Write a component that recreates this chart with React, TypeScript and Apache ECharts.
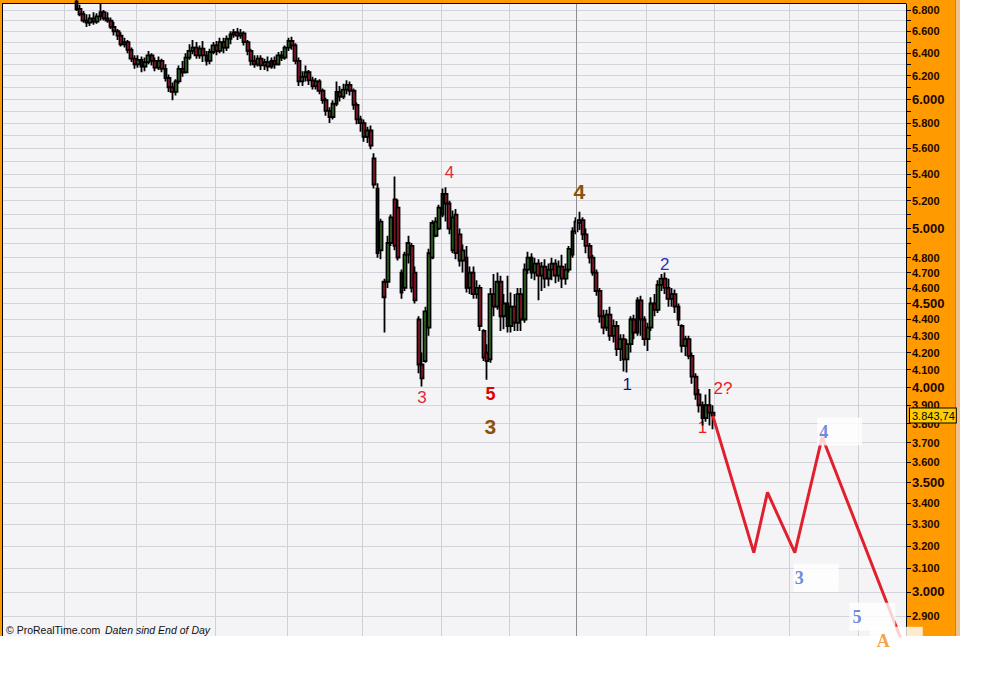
import React, { useEffect, useRef } from 'react';
import * as echarts from 'echarts';

// ---------- categories (trading days) ----------
const HOLIDAYS = ['2008-12-24', '2008-12-25', '2008-12-26', '2008-12-31', '2009-01-01', '2009-04-10', '2009-04-13', '2009-05-01'];
const FIRST_DAY = '2008-05-07';
const LAST_DAY = '2009-05-21';

function buildTradingDays(): string[] {
  const out: string[] = [];
  const start = Date.parse(FIRST_DAY + 'T00:00:00Z');
  const end = Date.parse(LAST_DAY + 'T00:00:00Z');
  for (let t = start; t <= end; t += 86400000) {
    const d = new Date(t);
    const wd = d.getUTCDay();
    if (wd === 0 || wd === 6) continue;
    const s = d.toISOString().slice(0, 10);
    if (HOLIDAYS.includes(s)) continue;
    out.push(s);
  }
  return out;
}
const categories = buildTradingDays();

// ---------- daily candles [open, close, low, high], consecutive trading days ----------
const FIRST_CANDLE = '2008-06-05';
const jun08 = [
  [6880, 6810, 6790, 6920], [6810, 6760, 6740, 6850], [6760, 6700, 6680, 6790], [6700, 6680, 6640, 6760],
  [6680, 6720, 6650, 6760], [6720, 6690, 6660, 6780], [6690, 6740, 6670, 6770], [6740, 6780, 6700, 6860],
  [6780, 6720, 6700, 6800], [6720, 6700, 6680, 6780], [6700, 6640, 6620, 6730], [6640, 6600, 6560, 6690],
  [6600, 6560, 6520, 6620], [6560, 6480, 6460, 6590], [6480, 6500, 6450, 6540], [6500, 6430, 6400, 6520],
  [6430, 6350, 6320, 6450], [6350, 6300, 6260, 6380],
];
const jul08 = [
  [6300, 6340, 6270, 6380], [6340, 6280, 6230, 6370], [6280, 6320, 6240, 6360], [6320, 6380, 6300, 6420],
  [6380, 6330, 6290, 6400], [6330, 6270, 6240, 6360], [6270, 6330, 6250, 6370], [6330, 6260, 6230, 6350],
  [6260, 6180, 6150, 6300], [6180, 6100, 6060, 6210], [6100, 6060, 5990, 6140], [6060, 6150, 6030, 6170],
  [6150, 6260, 6130, 6290], [6260, 6230, 6190, 6330], [6230, 6360, 6220, 6400], [6360, 6420, 6340, 6480],
  [6420, 6450, 6390, 6520], [6450, 6380, 6350, 6500], [6380, 6440, 6350, 6470], [6440, 6380, 6320, 6510],
  [6380, 6330, 6290, 6420], [6330, 6410, 6300, 6440], [6410, 6470, 6390, 6500],
];
const aug08 = [
  [6470, 6420, 6380, 6510], [6420, 6500, 6400, 6540], [6500, 6450, 6400, 6540], [6450, 6530, 6420, 6560],
  [6530, 6570, 6480, 6600], [6570, 6590, 6540, 6620], [6590, 6560, 6520, 6630], [6560, 6580, 6530, 6620],
  [6580, 6500, 6470, 6600], [6500, 6420, 6380, 6520], [6420, 6330, 6290, 6440], [6330, 6300, 6270, 6380],
  [6300, 6350, 6280, 6380], [6350, 6290, 6250, 6380], [6290, 6320, 6250, 6350], [6320, 6280, 6240, 6370],
  [6280, 6330, 6260, 6360], [6330, 6300, 6260, 6370], [6300, 6380, 6290, 6410], [6380, 6360, 6330, 6420],
  [6360, 6450, 6340, 6470],
];
const sep08 = [
  [6450, 6510, 6420, 6540], [6510, 6470, 6430, 6550], [6470, 6330, 6300, 6490], [6330, 6150, 6110, 6360],
  [6150, 6190, 6110, 6240], [6190, 6230, 6150, 6290], [6230, 6160, 6120, 6250], [6160, 6110, 6080, 6190],
  [6110, 6150, 6080, 6180], [6150, 6070, 6040, 6170], [6070, 5990, 5960, 6090], [5990, 5900, 5860, 6010],
  [5900, 5850, 5800, 5930], [5850, 5960, 5830, 5990], [5960, 6060, 5940, 6150], [6060, 6020, 5980, 6110],
  [6020, 6080, 6000, 6130], [6080, 6120, 6040, 6160], [6120, 6070, 6030, 6150], [6070, 5950, 5910, 6090],
  [5950, 5830, 5790, 5970], [5830, 5800, 5730, 5860],
];
const oct08 = [
  [5800, 5690, 5650, 5830], [5690, 5740, 5640, 5770], [5740, 5620, 5590, 5780], [5520, 5320, 5290, 5560],
  [5290, 4830, 4800, 5330], [4850, 5050, 4790, 5070], [4640, 4540, 4320, 4660], [4640, 4900, 4600, 4950],
  [4900, 5080, 4880, 5100], [5210, 4880, 4850, 5380], [5150, 4800, 4780, 5210], [4700, 4570, 4530, 4720],
  [4600, 4820, 4580, 4840], [4820, 4900, 4760, 4950], [4880, 4600, 4570, 4900], [4700, 4520, 4500, 4740],
  [4400, 4130, 4080, 4420], [4130, 4050, 4004, 4200], [4150, 4450, 4140, 4480], [4350, 4830, 4300, 4860],
  [4800, 5040, 4790, 5060], [4950, 5050, 4940, 5080], [5000, 5150, 4990, 5170],
];
const nov08 = [
  [5100, 5250, 5080, 5290], [5250, 5180, 5050, 5300], [5180, 5000, 4960, 5200], [4850, 5080, 4830, 5130],
  [5100, 4830, 4790, 5140], [4960, 4780, 4740, 5000], [4780, 4850, 4700, 4890], [4800, 4600, 4570, 4880],
  [4600, 4700, 4560, 4740], [4700, 4560, 4530, 4740], [4560, 4600, 4530, 4650], [4600, 4360, 4330, 4620],
  [4330, 4170, 4150, 4340], [4200, 4150, 4043, 4250], [4160, 4560, 4140, 4600], [4560, 4480, 4420, 4690],
  [4480, 4640, 4460, 4700], [4640, 4420, 4330, 4680], [4420, 4500, 4340, 4560], [4500, 4360, 4320, 4680],
];
const dec08 = [
  [4360, 4480, 4320, 4570], [4480, 4380, 4330, 4560], [4380, 4560, 4330, 4600], [4560, 4400, 4330, 4600],
  [4400, 4720, 4380, 4760], [4720, 4800, 4690, 4840], [4800, 4700, 4660, 4830], [4700, 4760, 4650, 4800],
  [4760, 4680, 4520, 4790], [4680, 4740, 4580, 4770], [4740, 4660, 4600, 4790], [4660, 4720, 4610, 4760],
  [4720, 4760, 4650, 4800], [4760, 4680, 4630, 4790], [4680, 4740, 4640, 4780], [4740, 4660, 4600, 4820],
  [4660, 4720, 4620, 4760], [4720, 4860, 4700, 4880], [4820, 4980, 4800, 5010],
];
const jan09 = [
  [4980, 5050, 4960, 5080], [5040, 5060, 4990, 5120], [5060, 4960, 4920, 5080], [4960, 4880, 4830, 5000],
  [4880, 4800, 4760, 4900], [4800, 4700, 4680, 4820], [4700, 4580, 4550, 4720], [4580, 4420, 4380, 4600],
  [4420, 4350, 4310, 4460], [4350, 4430, 4330, 4460], [4430, 4300, 4270, 4480], [4300, 4360, 4260, 4400],
  [4360, 4220, 4180, 4390], [4220, 4280, 4150, 4310], [4280, 4160, 4090, 4310], [4160, 4250, 4084, 4280],
  [4250, 4400, 4200, 4420], [4400, 4320, 4280, 4430], [4320, 4520, 4300, 4540], [4520, 4400, 4300, 4550],
  [4400, 4280, 4240, 4420],
];
const feb09 = [
  [4280, 4350, 4210, 4380], [4350, 4500, 4330, 4540], [4500, 4460, 4420, 4560], [4460, 4620, 4440, 4650],
  [4620, 4660, 4580, 4690], [4660, 4600, 4560, 4700], [4600, 4530, 4480, 4660], [4530, 4560, 4480, 4600],
  [4560, 4480, 4440, 4590], [4480, 4400, 4360, 4500], [4360, 4240, 4200, 4370], [4240, 4280, 4180, 4300],
  [4280, 4180, 4160, 4300], [4180, 4060, 4020, 4200], [4060, 3960, 3930, 4080], [3960, 3900, 3860, 3990],
  [3900, 3830, 3790, 3920], [3830, 3900, 3810, 3960], [3900, 3860, 3790, 3990], [3860, 3843.74, 3770, 3900],
];

const LAST_PRICE = 3843.74;
const LAST_PRICE_TEXT = '3.843,74';
const YEAR_START = '2009-01-02';

// ---------- projected path (drawn forecast) ----------
const projection: [string, number][] = [
  ['2009-02-27', 3843.74], ['2009-03-17', 3170], ['2009-03-23', 3450], ['2009-04-02', 3170],
  ['2009-04-16', 3730], ['2009-05-14', 2950], ['2009-05-20', 2808],
];

// ---------- wave labels ----------
const waveLabels = [
  { date: '2008-11-05', value: 5413, text: '4', tone: 'red' },
  { date: '2008-10-24', value: 3943, text: '3', tone: 'red' },
  { date: '2008-11-21', value: 3960, text: '5', tone: 'redBold' },
  { date: '2008-11-21', value: 3785, text: '3', tone: 'brown' },
  { date: '2009-01-05', value: 5270, text: '4', tone: 'brown' },
  { date: '2009-01-23', value: 4015, text: '1', tone: 'navy' },
  { date: '2009-02-09', value: 4755, text: '2', tone: 'blue' },
  { date: '2009-03-04', value: 3993, text: '2?', tone: 'red2' },
];
const hiddenWaveLabels = [{ date: '2009-02-24', value: 3780, text: '1', tone: 'red2' }];
const projLabels = [
  { date: '2009-04-16', value: 3758, text: '4', tone: 'proj' },
  { date: '2009-04-06', value: 3060, text: '3', tone: 'proj' },
  { date: '2009-04-30', value: 2896, text: '5', tone: 'proj' },
  { date: '2009-05-13', value: 2800, text: 'A', tone: 'projA' },
];

// ---------- y axis ticks ----------
const yLabelValues = [6800, 6600, 6400, 6200, 6000, 5800, 5600, 5400, 5200, 5000, 4800, 4700, 4600, 4500, 4400,
  4300, 4200, 4100, 4000, 3900, 3800, 3700, 3600, 3500, 3400, 3300, 3200, 3100, 3000, 2900];
const yBigLabels = [6000, 5000, 4500, 4000, 3500, 3000];
const Y_TICK_STEP = 100;
const Y_MIN = 2819;
const Y_MAX = 6858;

// ---------- styles ----------
const FONT = 'Liberation Sans';
const toneStyle: Record<string, any> = {
  red: { color: '#e0283c', fontSize: 17, fontWeight: 'normal' },
  redBold: { color: '#e00000', fontSize: 18, fontWeight: 'bold' },
  red2: { color: '#e81c1c', fontSize: 17, fontWeight: 'normal' },
  brown: { color: '#8a520a', fontSize: 21, fontWeight: 'bold' },
  navy: { color: '#14147e', fontSize: 17, fontWeight: 'normal' },
  blue: { color: '#2e2ec4', fontSize: 17, fontWeight: 'normal' },
  proj: { color: '#4a6ad0' },
  projA: { color: '#f08a20' },
};
const projBox: Record<string, { dx: number; pad: number[] }> = {
  '4': { dx: -5, pad: [5, 34, 5, 2] },
  '3': { dx: -8, pad: [5, 35, 5, 1] },
  '5': { dx: -7, pad: [5, 34, 5, 3] },
  A: { dx: -14, pad: [5, 33, 5, 7] },
};

function fmtThousands(v: number): string {
  return String(Math.round(v)).replace(/\B(?=(\d{3})+(?!\d))/g, '.');
}

function buildOption() {
  const firstIdx = categories.indexOf(FIRST_CANDLE);
  const all = [...jun08, ...jul08, ...aug08, ...sep08, ...oct08, ...nov08, ...dec08, ...jan09, ...feb09];
  const candleData = all.map((c, i) => [firstIdx + i, c[0], c[1], c[2], c[3]]);

  const yTicks: number[] = [];
  for (let v = yLabelValues[yLabelValues.length - 1]; v <= yLabelValues[0]; v += Y_TICK_STEP) yTicks.push(v);

  const monthStart = (idx: number, val: string) => {
    if (idx === 0) return false;
    const prev = categories[idx - 1];
    return prev.slice(5, 7) !== val.slice(5, 7) && val !== YEAR_START;
  };

  const waveItem = (w: any) => {
    const st = toneStyle[w.tone];
    return {
      value: [w.date, w.value],
      label: {
        show: true, position: 'inside', formatter: w.text, color: st.color,
        fontSize: st.fontSize, fontWeight: st.fontWeight, fontFamily: FONT,
        textBorderWidth: 0, textBorderColor: 'transparent', opacity: 1,
      },
    };
  };

  return {
    animation: false,
    backgroundColor: '#ffffff',
    textStyle: { fontFamily: FONT },
    grid: {
      left: 3, top: 4, width: 903, height: 632, show: true,
      backgroundColor: '#f4f4f7', borderWidth: 0,
    },
    xAxis: {
      type: 'category', data: categories, boundaryGap: true,
      axisLine: { show: false }, axisTick: { show: false }, axisLabel: { show: false },
      splitLine: { show: true, interval: monthStart, lineStyle: { color: '#cfcfd6', width: 1 } },
    },
    yAxis: {
      type: 'log', logBase: 10, position: 'right', min: Y_MIN, max: Y_MAX,
      axisLine: { show: true, lineStyle: { color: '#000', width: 1 } },
      axisTick: { show: true, length: 5, inside: false, lineStyle: { color: '#000', width: 1 }, customValues: yTicks },
      axisLabel: {
        customValues: yLabelValues, margin: 6,
        formatter: (v: number) => {
          const r = Math.round(v);
          return yBigLabels.includes(r) ? `{b|${fmtThousands(r)}}` : `{n|${fmtThousands(r)}}`;
        },
        rich: {
          n: { fontSize: 11, fontWeight: 'bold', color: '#1a0800', fontFamily: FONT },
          b: { fontSize: 13, fontWeight: 'bold', color: '#1a0800', fontFamily: FONT },
        },
      },
      splitLine: { show: true, lineStyle: { color: '#d3d3db', width: 1 } },
    },
    graphic: [
      { type: 'rect', z: -10, shape: { x: 0, y: 0, width: 955, height: 636 }, style: { fill: '#ff9a00' } },
      { type: 'rect', z: -10, shape: { x: 955, y: 0, width: 1.5, height: 636 }, style: { fill: '#c8822c' } },
      { type: 'rect', z: -10, shape: { x: 956.5, y: 0, width: 3.5, height: 636 }, style: { fill: '#f3c08a' } },
      { type: 'rect', z: 20, shape: { x: 2, y: 3, width: 904, height: 1 }, style: { fill: '#000' } },
      { type: 'rect', z: 20, shape: { x: 2, y: 3, width: 1, height: 633 }, style: { fill: '#000' } },
      {
        type: 'text', z: 20, x: 6, y: 624,
        style: { text: '© ProRealTime.com', font: `10.5px "${FONT}"`, fill: '#111', verticalAlign: 'top' },
      },
      {
        type: 'text', z: 20, x: 105, y: 624,
        style: { text: 'Daten sind End of Day', font: `italic 10.5px "${FONT}"`, fill: '#111', verticalAlign: 'top' },
      },
    ],
    series: [
      {
        type: 'scatter', name: 'below', z: 2, silent: true, clip: false,
        symbol: 'circle', symbolSize: 0.1, itemStyle: { color: 'transparent' },
        data: hiddenWaveLabels.map(waveItem),
        markLine: {
          silent: true, symbol: ['none', 'none'], animation: false,
          label: { show: false },
          lineStyle: { color: '#8e8e92', width: 1, type: 'solid' },
          data: [{ xAxis: YEAR_START }],
        },
      },
      {
        type: 'candlestick', name: 'Index', z: 3,
        data: candleData, encode: { x: 0, y: [1, 2, 3, 4] },
        barWidth: 3.4,
        itemStyle: {
          color: '#3b8a2e', color0: '#c41a3a',
          borderColor: '#000', borderColor0: '#000', borderColorDoji: '#000', borderWidth: 1.8,
        },
        markLine: {
          silent: true, symbol: ['none', 'none'], animation: false,
          lineStyle: { color: 'transparent', width: 0 },
          label: {
            show: true, position: 'end', distance: 4, formatter: LAST_PRICE_TEXT,
            backgroundColor: '#ffcc00', borderColor: '#000', borderWidth: 1,
            padding: [2, 1, 1, 2], color: '#000', fontSize: 11, fontFamily: FONT,
          },
          data: [{ yAxis: LAST_PRICE }],
        },
      },
      {
        type: 'line', name: 'projection', z: 4, data: projection,
        symbol: 'none', lineStyle: { color: '#e0202c', width: 3 }, clip: true,
      },
      {
        type: 'scatter', name: 'waves', z: 6, silent: true, clip: false,
        symbol: 'circle', symbolSize: 0.1, itemStyle: { color: 'transparent' },
        data: waveLabels.map(waveItem),
      },
      {
        type: 'scatter', name: 'projLabels', z: 7, silent: true, clip: false,
        symbol: 'circle', symbolSize: 0.1, itemStyle: { color: 'transparent' },
        data: projLabels.map((p) => {
          const box = projBox[p.text];
          return {
            value: [p.date, p.value],
            label: {
              show: true, position: 'inside', align: 'left', verticalAlign: 'middle',
              offset: [box.dx, 0], formatter: p.text, color: toneStyle[p.tone].color,
              fontFamily: 'Liberation Serif', fontWeight: 'bold', fontSize: 18,
              textBorderWidth: 0, textBorderColor: 'transparent',
              backgroundColor: '#ffffff', padding: box.pad,
            },
          };
        }),
      },
    ],
  };
}

export default function App() {
  const ref = useRef<HTMLDivElement>(null);
  useEffect(() => {
    document.body.style.margin = '0';
    const chart = echarts.init(ref.current as HTMLDivElement, null, { renderer: 'svg' });
    chart.setOption(buildOption() as any);
    return () => chart.dispose();
  }, []);
  return <div ref={ref} style={{ width: 989, height: 692, background: '#fff' }} />;
}
